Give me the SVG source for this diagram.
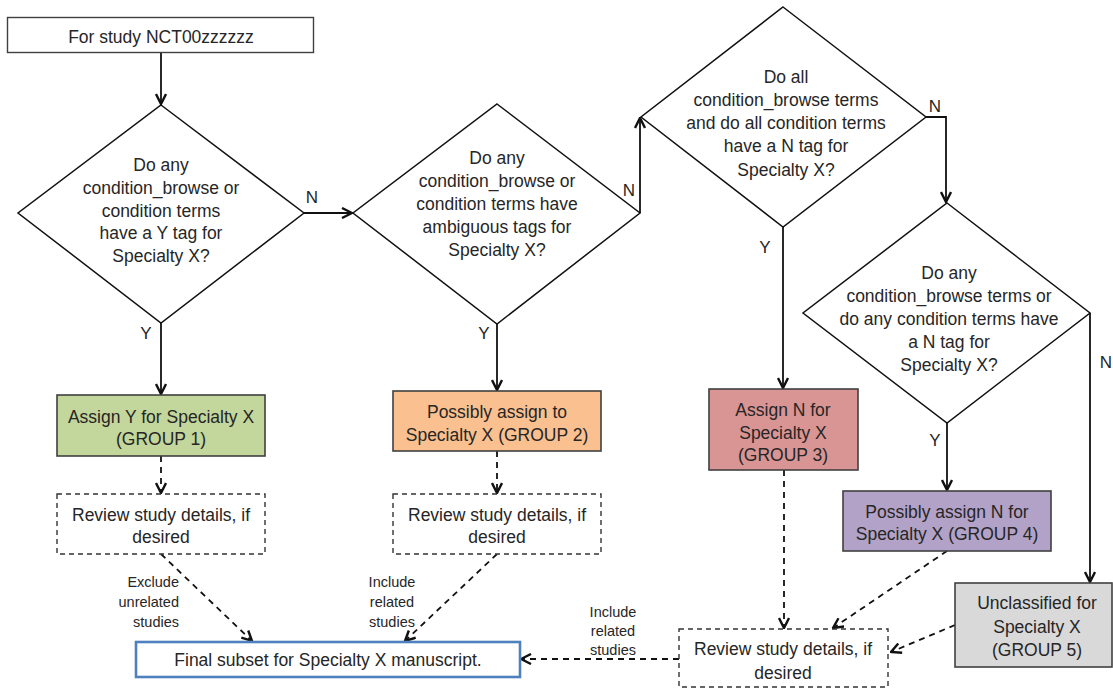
<svg xmlns="http://www.w3.org/2000/svg" width="1113" height="689" viewBox="0 0 1113 689">
<style>
text{font-family:"Liberation Sans",Arial,sans-serif;fill:#262626;text-anchor:middle}
.t{font-size:17.5px}
.s{font-size:14.5px}
.lab{font-size:17px}
.box{stroke:#404040;stroke-width:1.6}
.dia{fill:#fff;stroke:#111;stroke-width:1.5}
.dbox{fill:#fff;stroke:#333;stroke-width:1.4;stroke-dasharray:5,4}
.c{fill:none;stroke:#111;stroke-width:1.8}
.d{fill:none;stroke:#111;stroke-width:1.8;stroke-dasharray:6,5}
</style>
<defs>
<marker id="ah" viewBox="0 0 12 12" refX="11" refY="6" markerWidth="12" markerHeight="12" markerUnits="userSpaceOnUse" orient="auto">
<path d="M1,1 L11,6 L1,11" fill="none" stroke="#111" stroke-width="2.4"/>
</marker>
</defs>
<rect width="1113" height="689" fill="#fff"/>
<g id="connectors">
<path class="c" d="M161,53 L161,104" marker-end="url(#ah)"/>
<path class="c" d="M304,213 L352,213" marker-end="url(#ah)"/>
<path class="c" d="M640,213 L640,118" marker-end="url(#ah)"/>
<path class="c" d="M926,117 L946,117 L946,202" marker-end="url(#ah)"/>
<path class="c" d="M1090,313 L1090,582" marker-end="url(#ah)"/>
<path class="c" d="M161,323 L161,394" marker-end="url(#ah)"/>
<path class="c" d="M497,324 L497,390" marker-end="url(#ah)"/>
<path class="c" d="M783,227 L783,388" marker-end="url(#ah)"/>
<path class="c" d="M947,423 L947,490" marker-end="url(#ah)"/>
<path class="d" d="M161,456 L161,493" marker-end="url(#ah)"/>
<path class="d" d="M497,451 L497,493" marker-end="url(#ah)"/>
<path class="d" d="M161,554 L252,641" marker-end="url(#ah)"/>
<path class="d" d="M497,554 L405,641" marker-end="url(#ah)"/>
<path class="d" d="M784,470 L784,628" marker-end="url(#ah)"/>
<path class="d" d="M947,551 L833,628" marker-end="url(#ah)"/>
<path class="d" d="M955,625 L891,652" marker-end="url(#ah)"/>
<path class="d" d="M679,659 L521,659" marker-end="url(#ah)"/>
<text class="lab" x="312" y="203">N</text>
<text class="lab" x="629" y="196">N</text>
<text class="lab" x="935" y="112">N</text>
<text class="lab" x="1106" y="368">N</text>
<text class="lab" x="146" y="339">Y</text>
<text class="lab" x="484" y="339">Y</text>
<text class="lab" x="765" y="253">Y</text>
<text class="lab" x="935" y="446">Y</text>
<text class="s" x="179" y="587" text-anchor="end" style="text-anchor:end">Exclude</text>
<text class="s" x="179" y="607" style="text-anchor:end">unrelated</text>
<text class="s" x="179" y="627" style="text-anchor:end">studies</text>
<text class="s" x="392" y="587">Include</text>
<text class="s" x="392" y="607">related</text>
<text class="s" x="392" y="627">studies</text>
<text class="s" x="613" y="617">Include</text>
<text class="s" x="613" y="636">related</text>
<text class="s" x="613" y="655">studies</text>
</g>
<g id="start">
<rect x="7.5" y="17.5" width="306" height="35" fill="#fff" stroke="#404040" stroke-width="1.4"/>
<text class="t" x="161" y="43">For study NCT00zzzzzz</text>
</g>
<g id="q1">
<polygon class="dia" points="161,105 304,213 161,323 18,213"/>
<text class="t" x="161" y="171">Do any</text>
<text class="t" x="161" y="194">condition_browse or</text>
<text class="t" x="161" y="217">condition terms</text>
<text class="t" x="161" y="239">have a Y tag for</text>
<text class="t" x="161" y="262">Specialty X?</text>
</g>
<g id="q2">
<polygon class="dia" points="497,104 640,213 497,324 353,213"/>
<text class="t" x="497" y="164">Do any</text>
<text class="t" x="497" y="187">condition_browse or</text>
<text class="t" x="497" y="210">condition terms have</text>
<text class="t" x="497" y="233">ambiguous tags for</text>
<text class="t" x="497" y="256">Specialty X?</text>
</g>
<g id="q3">
<polygon class="dia" points="783,7 926,117 783,227 641,117"/>
<text class="t" x="786" y="83">Do all</text>
<text class="t" x="786" y="106">condition_browse terms</text>
<text class="t" x="786" y="129">and do all condition terms</text>
<text class="t" x="786" y="152">have a N tag for</text>
<text class="t" x="786" y="176">Specialty X?</text>
</g>
<g id="q4">
<polygon class="dia" points="947,203 1090,313 947,423 803,313"/>
<text class="t" x="949" y="279">Do any</text>
<text class="t" x="949" y="302">condition_browse terms or</text>
<text class="t" x="949" y="325">do any condition terms have</text>
<text class="t" x="949" y="348">a N tag for</text>
<text class="t" x="949" y="371">Specialty X?</text>
</g>
<g id="group1">
<rect class="box" x="57" y="395" width="208" height="61" fill="#c3d69b"/>
<text class="t" x="161" y="423">Assign Y for Specialty X</text>
<text class="t" x="161" y="445">(GROUP 1)</text>
</g>
<g id="group2">
<rect class="box" x="393" y="391" width="208" height="60" fill="#fac090"/>
<text class="t" x="497" y="418">Possibly assign to</text>
<text class="t" x="497" y="441">Specialty X (GROUP 2)</text>
</g>
<g id="group3">
<rect class="box" x="709" y="389" width="149" height="81" fill="#d99594"/>
<text class="t" x="783" y="416">Assign N for</text>
<text class="t" x="783" y="439">Specialty X</text>
<text class="t" x="783" y="461">(GROUP 3)</text>
</g>
<g id="group4">
<rect class="box" x="843" y="491" width="208" height="60" fill="#b3a2c7"/>
<text class="t" x="947" y="518">Possibly assign N for</text>
<text class="t" x="947" y="540">Specialty X (GROUP 4)</text>
</g>
<g id="group5">
<rect class="box" x="955" y="583" width="157" height="84" fill="#d9d9d9"/>
<text class="t" x="1037" y="609">Unclassified for</text>
<text class="t" x="1037" y="633">Specialty X</text>
<text class="t" x="1037" y="656">(GROUP 5)</text>
</g>
<g id="review1">
<rect class="dbox" x="57" y="494" width="208" height="60"/>
<text class="t" x="161" y="521">Review study details, if</text>
<text class="t" x="161" y="543">desired</text>
</g>
<g id="review2">
<rect class="dbox" x="393" y="494" width="208" height="60"/>
<text class="t" x="497" y="521">Review study details, if</text>
<text class="t" x="497" y="543">desired</text>
</g>
<g id="review3">
<rect class="dbox" x="679" y="629" width="209" height="58"/>
<text class="t" x="783" y="655">Review study details, if</text>
<text class="t" x="783" y="679">desired</text>
</g>
<g id="final">
<rect x="136" y="642" width="384" height="35" fill="#fff" stroke="#4f81bd" stroke-width="2.6"/>
<text class="t" x="328" y="666">Final subset for Specialty X manuscript.</text>
</g>
</svg>
